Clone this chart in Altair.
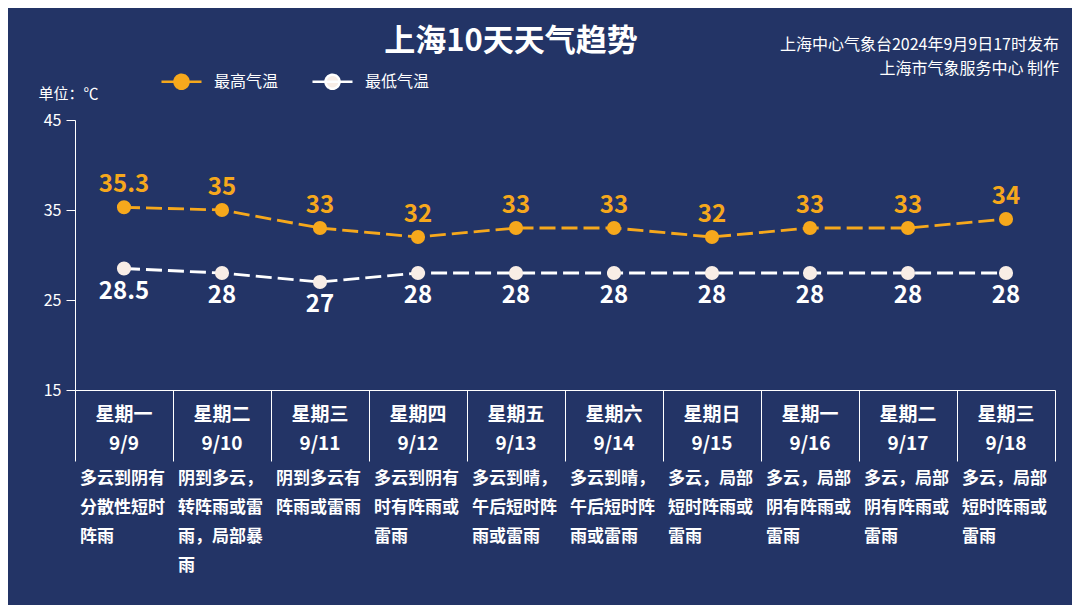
import altair as alt
import pandas as pd

# ---- data ----
dates = ["9/9", "9/10", "9/11", "9/12", "9/13", "9/14", "9/15", "9/16", "9/17", "9/18"]
weekdays = ["星期一", "星期二", "星期三", "星期四", "星期五", "星期六", "星期日", "星期一", "星期二", "星期三"]
highs = [35.3, 35, 33, 32, 33, 33, 32, 33, 33, 34]
lows = [28.5, 28, 27, 28, 28, 28, 28, 28, 28, 28]
weather = [
    "多云到阴有\n分散性短时\n阵雨",
    "阴到多云，\n转阵雨或雷\n雨，局部暴\n雨",
    "阴到多云有\n阵雨或雷雨",
    "多云到阴有\n时有阵雨或\n雷雨",
    "多云到晴，\n午后短时阵\n雨或雷雨",
    "多云到晴，\n午后短时阵\n雨或雷雨",
    "多云，局部\n短时阵雨或\n雷雨",
    "多云，局部\n阴有阵雨或\n雷雨",
    "多云，局部\n阴有阵雨或\n雷雨",
    "多云，局部\n短时阵雨或\n雷雨",
]
series_names = ["最高气温", "最低气温"]
title_text = "上海10天天气趋势"
credit_1 = ["上海中心气象台2024年9月9日17时发布"]
credit_2 = ["上海市气象服务中心 制作"]
y_ticks = [15, 25, 35, 45]

ORANGE = "#f6a81c"
WHITE_PT = "#f8ede6"
BG = "#233466"
FONT = "Noto Sans CJK SC"

df = pd.DataFrame({"date": dates, "weekday": weekdays, "high": highs,
                   "low": lows, "weather": weather})
long = pd.concat([
    pd.DataFrame({"date": dates, "temp": highs, "series": series_names[0]}),
    pd.DataFrame({"date": dates, "temp": lows, "series": series_names[1]}),
])

W, H = 980, 270

xscale = alt.Scale(domain=dates, paddingInner=0, paddingOuter=0)
x_axis = alt.Axis(title=None, labels=False, tickBand="extent", tickSize=71,
                  tickColor="white", tickWidth=1, domainColor="white",
                  domainWidth=1, grid=False)
yscale = alt.Scale(domain=[15, 45], nice=False, zero=False)
y_axis = alt.Axis(values=y_ticks, tickSize=9, tickColor="white", domainColor="white",
                  labelColor="white", labelFontSize=16, labelFont=FONT,
                  labelPadding=5, grid=False,
                  title="单位：℃", titleAngle=0, titleX=-37, titleY=-27,
                  titleAlign="left", titleBaseline="middle", titleColor="white",
                  titleFontSize=15, titleFontWeight="normal", titleFont=FONT)

line_scale = alt.Scale(domain=series_names, range=[ORANGE, "#ffffff"])
point_scale = alt.Scale(domain=series_names, range=[ORANGE, WHITE_PT])

# custom legend symbol: line through a circle (unit coords, scaled by sqrt(size)/2)
k = 0.5523
sym = (f"M-2.86,0L2.86,0"
       f"M1,0C1,{k} {k},1 0,1C-{k},1 -1,{k} -1,0C-1,-{k} -{k},-1 0,-1C{k},-1 1,-{k} 1,0Z")
legend = alt.Legend(title=None, orient="none", legendX=98, legendY=-47,
                    direction="horizontal", symbolType=sym, symbolSize=196,
                    symbolStrokeWidth=2.5, symbolDash=[1, 0], labelColor="white",
                    labelFontSize=16, labelFont=FONT, labelOffset=24,
                    columnPadding=28, padding=0)

lines = alt.Chart(long).mark_line(strokeDash=[16, 6], strokeWidth=2.8).encode(
    x=alt.X("date:N", scale=xscale, axis=x_axis),
    y=alt.Y("temp:Q", scale=yscale, axis=y_axis),
    stroke=alt.Stroke("series:N", scale=line_scale, legend=legend),
    detail="series:N",
)

points = alt.Chart(long).mark_point(filled=True, size=200, opacity=1).encode(
    x=alt.X("date:N", scale=xscale),
    y=alt.Y("temp:Q", scale=yscale),
    fill=alt.Fill("series:N", scale=point_scale, legend=legend),
)

high_lbl = alt.Chart(df).mark_text(dy=-22, fontSize=24, fontWeight="bold",
                                   color=ORANGE, font=FONT, baseline="middle").encode(
    x=alt.X("date:N", scale=xscale), y=alt.Y("high:Q", scale=yscale), text="high:Q")
low_lbl = alt.Chart(df).mark_text(dy=23, fontSize=24, fontWeight="bold",
                                  color="white", font=FONT, baseline="middle").encode(
    x=alt.X("date:N", scale=xscale), y=alt.Y("low:Q", scale=yscale), text="low:Q")

wk_lbl = alt.Chart(df).mark_text(fontSize=19, fontWeight="bold", color="white",
                                 font=FONT, baseline="middle").encode(
    x=alt.X("date:N", scale=xscale), y=alt.value(H + 25), text="weekday:N")
dt_lbl = alt.Chart(df).mark_text(fontSize=19, fontWeight="bold", color="white",
                                 font=FONT, baseline="middle").encode(
    x=alt.X("date:N", scale=xscale), y=alt.value(H + 54), text="date:N")
wx_lbl = alt.Chart(df).mark_text(fontSize=17, fontWeight="bold", color="white",
                                 font=FONT, baseline="middle", align="left", dx=5,
                                 lineBreak="\n", lineHeight=29).encode(
    x=alt.X("date:N", scale=xscale, bandPosition=0), y=alt.value(H + 89),
    text="weather:N")

cred1 = alt.Chart(pd.DataFrame({"t": credit_1})).mark_text(
    fontSize=16, color="white", font=FONT, align="right", baseline="middle").encode(
    x=alt.value(W + 4), y=alt.value(-75), text="t:N")
cred2 = alt.Chart(pd.DataFrame({"t": credit_2})).mark_text(
    fontSize=16, color="white", font=FONT, align="right", baseline="middle").encode(
    x=alt.value(W + 4), y=alt.value(-51), text="t:N")

chart = alt.layer(lines, points, high_lbl, low_lbl, wk_lbl, dt_lbl, wx_lbl, cred1, cred2).properties(
    width=W, height=H,
    title=alt.Title(title_text, fontSize=31, fontWeight="bold", color="white",
                    font=FONT, anchor="middle", dx=-54, baseline="bottom", offset=-52),
    background=BG,
    autosize=alt.AutoSizeParams(type="none"),
    padding={"left": 67, "top": 112, "right": 17, "bottom": 215},
).configure_view(stroke=None)

chart.save("out.html", embed_options={"renderer": "svg", "actions": False})
